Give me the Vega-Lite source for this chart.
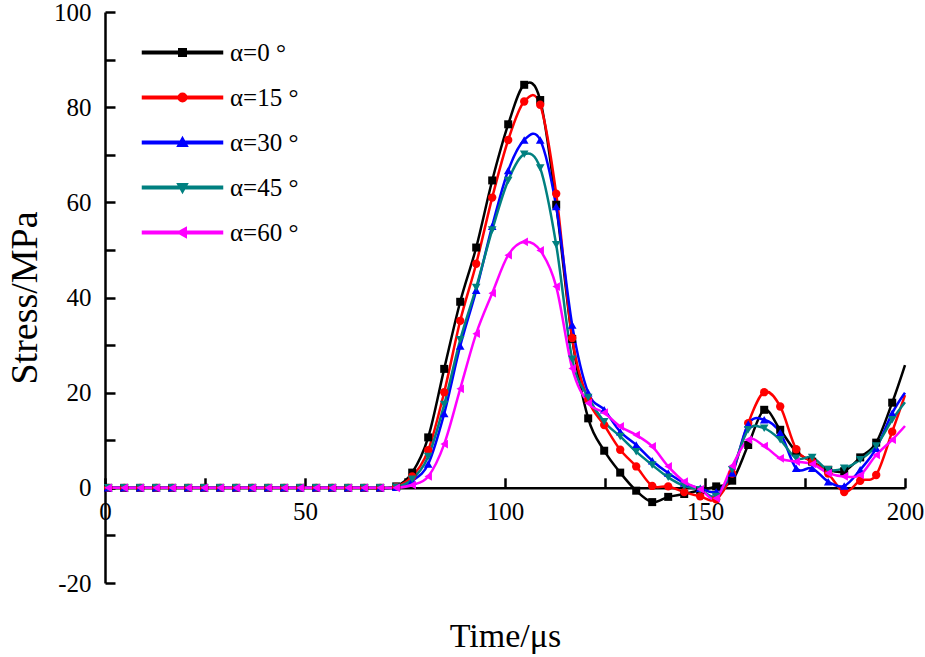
{
  "$schema": "https://vega.github.io/schema/vega-lite/v6.json",
  "width": 800,
  "height": 571,
  "autosize": {"type": "none"},
  "padding": {"left": 105, "top": 12, "right": 20, "bottom": 74},
  "background": "white",
  "config": {"view": {"stroke": null}, "font": "Times New Roman, Liberation Serif, DejaVu Serif, serif"},
  "data": {"values": [
    {"series": "α=0 °", "t": 0.8, "stress": 0}, {"series": "α=0 °", "t": 4.8, "stress": 0}, {"series": "α=0 °", "t": 8.8, "stress": 0}, {"series": "α=0 °", "t": 12.8, "stress": 0}, {"series": "α=0 °", "t": 16.8, "stress": 0}, {"series": "α=0 °", "t": 20.8, "stress": 0}, {"series": "α=0 °", "t": 24.8, "stress": 0}, {"series": "α=0 °", "t": 28.8, "stress": 0}, {"series": "α=0 °", "t": 32.8, "stress": 0}, {"series": "α=0 °", "t": 36.8, "stress": 0}, {"series": "α=0 °", "t": 40.8, "stress": 0}, {"series": "α=0 °", "t": 44.8, "stress": 0}, {"series": "α=0 °", "t": 48.8, "stress": 0}, {"series": "α=0 °", "t": 52.8, "stress": 0}, {"series": "α=0 °", "t": 56.8, "stress": 0}, {"series": "α=0 °", "t": 60.8, "stress": 0}, {"series": "α=0 °", "t": 64.8, "stress": 0}, {"series": "α=0 °", "t": 68.8, "stress": 0}, {"series": "α=0 °", "t": 72.8, "stress": 0.3},
    {"series": "α=0 °", "t": 76.8, "stress": 3.2}, {"series": "α=0 °", "t": 80.8, "stress": 10.6}, {"series": "α=0 °", "t": 84.8, "stress": 25.0}, {"series": "α=0 °", "t": 88.8, "stress": 39.1}, {"series": "α=0 °", "t": 92.8, "stress": 50.5}, {"series": "α=0 °", "t": 96.8, "stress": 64.6}, {"series": "α=0 °", "t": 100.8, "stress": 76.4}, {"series": "α=0 °", "t": 104.8, "stress": 84.7}, {"series": "α=0 °", "t": 108.8, "stress": 81.5}, {"series": "α=0 °", "t": 112.8, "stress": 59.5}, {"series": "α=0 °", "t": 116.8, "stress": 31.3}, {"series": "α=0 °", "t": 120.8, "stress": 14.6}, {"series": "α=0 °", "t": 124.8, "stress": 7.8}, {"series": "α=0 °", "t": 128.8, "stress": 3.2}, {"series": "α=0 °", "t": 132.8, "stress": -0.6}, {"series": "α=0 °", "t": 136.8, "stress": -3.0}, {"series": "α=0 °", "t": 140.8, "stress": -1.9}, {"series": "α=0 °", "t": 144.8, "stress": -1.3}, {"series": "α=0 °", "t": 148.8, "stress": -0.5}, {"series": "α=0 °", "t": 152.8, "stress": 0.3}, {"series": "α=0 °", "t": 156.8, "stress": 1.5}, {"series": "α=0 °", "t": 160.8, "stress": 9.0}, {"series": "α=0 °", "t": 164.8, "stress": 16.4}, {"series": "α=0 °", "t": 168.8, "stress": 12.2}, {"series": "α=0 °", "t": 172.8, "stress": 7.6}, {"series": "α=0 °", "t": 176.8, "stress": 5.5}, {"series": "α=0 °", "t": 180.8, "stress": 3.8}, {"series": "α=0 °", "t": 184.8, "stress": 3.5}, {"series": "α=0 °", "t": 188.8, "stress": 6.4}, {"series": "α=0 °", "t": 192.8, "stress": 9.5}, {"series": "α=0 °", "t": 196.8, "stress": 17.9}, {"series": "α=0 °", "t": 200, "stress": 25.8},

    {"series": "α=15 °", "t": 0.8, "stress": 0}, {"series": "α=15 °", "t": 4.8, "stress": 0}, {"series": "α=15 °", "t": 8.8, "stress": 0}, {"series": "α=15 °", "t": 12.8, "stress": 0}, {"series": "α=15 °", "t": 16.8, "stress": 0}, {"series": "α=15 °", "t": 20.8, "stress": 0}, {"series": "α=15 °", "t": 24.8, "stress": 0}, {"series": "α=15 °", "t": 28.8, "stress": 0}, {"series": "α=15 °", "t": 32.8, "stress": 0}, {"series": "α=15 °", "t": 36.8, "stress": 0}, {"series": "α=15 °", "t": 40.8, "stress": 0}, {"series": "α=15 °", "t": 44.8, "stress": 0}, {"series": "α=15 °", "t": 48.8, "stress": 0}, {"series": "α=15 °", "t": 52.8, "stress": 0}, {"series": "α=15 °", "t": 56.8, "stress": 0}, {"series": "α=15 °", "t": 60.8, "stress": 0}, {"series": "α=15 °", "t": 64.8, "stress": 0}, {"series": "α=15 °", "t": 68.8, "stress": 0}, {"series": "α=15 °", "t": 72.8, "stress": 0.2},
    {"series": "α=15 °", "t": 76.8, "stress": 2.4}, {"series": "α=15 °", "t": 80.8, "stress": 7.9}, {"series": "α=15 °", "t": 84.8, "stress": 20.1}, {"series": "α=15 °", "t": 88.8, "stress": 35.1}, {"series": "α=15 °", "t": 92.8, "stress": 47.1}, {"series": "α=15 °", "t": 96.8, "stress": 61.0}, {"series": "α=15 °", "t": 100.8, "stress": 73.1}, {"series": "α=15 °", "t": 104.8, "stress": 81.2}, {"series": "α=15 °", "t": 108.8, "stress": 80.5}, {"series": "α=15 °", "t": 112.8, "stress": 61.8}, {"series": "α=15 °", "t": 116.8, "stress": 31.5}, {"series": "α=15 °", "t": 120.8, "stress": 18.5}, {"series": "α=15 °", "t": 124.8, "stress": 13.2}, {"series": "α=15 °", "t": 128.8, "stress": 8.0}, {"series": "α=15 °", "t": 132.8, "stress": 4.5}, {"series": "α=15 °", "t": 136.8, "stress": 0.4}, {"series": "α=15 °", "t": 140.8, "stress": 0.3}, {"series": "α=15 °", "t": 144.8, "stress": -0.9}, {"series": "α=15 °", "t": 148.8, "stress": -1.8}, {"series": "α=15 °", "t": 152.8, "stress": -2.4}, {"series": "α=15 °", "t": 156.8, "stress": 3.0}, {"series": "α=15 °", "t": 160.8, "stress": 13.6}, {"series": "α=15 °", "t": 164.8, "stress": 20.1}, {"series": "α=15 °", "t": 168.8, "stress": 17.1}, {"series": "α=15 °", "t": 172.8, "stress": 8.1}, {"series": "α=15 °", "t": 176.8, "stress": 5.5}, {"series": "α=15 °", "t": 180.8, "stress": 3.0}, {"series": "α=15 °", "t": 184.8, "stress": -0.9}, {"series": "α=15 °", "t": 188.8, "stress": 1.5}, {"series": "α=15 °", "t": 192.8, "stress": 2.7}, {"series": "α=15 °", "t": 196.8, "stress": 11.8}, {"series": "α=15 °", "t": 200, "stress": 19.5},

    {"series": "α=30 °", "t": 0.8, "stress": 0}, {"series": "α=30 °", "t": 4.8, "stress": 0}, {"series": "α=30 °", "t": 8.8, "stress": 0}, {"series": "α=30 °", "t": 12.8, "stress": 0}, {"series": "α=30 °", "t": 16.8, "stress": 0}, {"series": "α=30 °", "t": 20.8, "stress": 0}, {"series": "α=30 °", "t": 24.8, "stress": 0}, {"series": "α=30 °", "t": 28.8, "stress": 0}, {"series": "α=30 °", "t": 32.8, "stress": 0}, {"series": "α=30 °", "t": 36.8, "stress": 0}, {"series": "α=30 °", "t": 40.8, "stress": 0}, {"series": "α=30 °", "t": 44.8, "stress": 0}, {"series": "α=30 °", "t": 48.8, "stress": 0}, {"series": "α=30 °", "t": 52.8, "stress": 0}, {"series": "α=30 °", "t": 56.8, "stress": 0}, {"series": "α=30 °", "t": 60.8, "stress": 0}, {"series": "α=30 °", "t": 64.8, "stress": 0}, {"series": "α=30 °", "t": 68.8, "stress": 0}, {"series": "α=30 °", "t": 72.8, "stress": 0.1},
    {"series": "α=30 °", "t": 76.8, "stress": 1.5}, {"series": "α=30 °", "t": 80.8, "stress": 5.0}, {"series": "α=30 °", "t": 84.8, "stress": 15.6}, {"series": "α=30 °", "t": 88.8, "stress": 29.8}, {"series": "α=30 °", "t": 92.8, "stress": 41.5}, {"series": "α=30 °", "t": 96.8, "stress": 55.0}, {"series": "α=30 °", "t": 100.8, "stress": 66.7}, {"series": "α=30 °", "t": 104.8, "stress": 73.1}, {"series": "α=30 °", "t": 108.8, "stress": 73.1}, {"series": "α=30 °", "t": 112.8, "stress": 59.1}, {"series": "α=30 °", "t": 116.8, "stress": 34.2}, {"series": "α=30 °", "t": 120.8, "stress": 20.0}, {"series": "α=30 °", "t": 124.8, "stress": 16.4}, {"series": "α=30 °", "t": 128.8, "stress": 11.8}, {"series": "α=30 °", "t": 132.8, "stress": 9.0}, {"series": "α=30 °", "t": 136.8, "stress": 5.7}, {"series": "α=30 °", "t": 140.8, "stress": 3.1}, {"series": "α=30 °", "t": 144.8, "stress": 1.0}, {"series": "α=30 °", "t": 148.8, "stress": -0.1}, {"series": "α=30 °", "t": 152.8, "stress": -0.8}, {"series": "α=30 °", "t": 156.8, "stress": 3.1}, {"series": "α=30 °", "t": 160.8, "stress": 13.4}, {"series": "α=30 °", "t": 164.8, "stress": 14.3}, {"series": "α=30 °", "t": 168.8, "stress": 11.6}, {"series": "α=30 °", "t": 172.8, "stress": 4.1}, {"series": "α=30 °", "t": 176.8, "stress": 4.1}, {"series": "α=30 °", "t": 180.8, "stress": 1.3}, {"series": "α=30 °", "t": 184.8, "stress": 0.4}, {"series": "α=30 °", "t": 188.8, "stress": 3.8}, {"series": "α=30 °", "t": 192.8, "stress": 8.3}, {"series": "α=30 °", "t": 196.8, "stress": 15.7}, {"series": "α=30 °", "t": 200, "stress": 20.0},

    {"series": "α=45 °", "t": 0.8, "stress": 0}, {"series": "α=45 °", "t": 4.8, "stress": 0}, {"series": "α=45 °", "t": 8.8, "stress": 0}, {"series": "α=45 °", "t": 12.8, "stress": 0}, {"series": "α=45 °", "t": 16.8, "stress": 0}, {"series": "α=45 °", "t": 20.8, "stress": 0}, {"series": "α=45 °", "t": 24.8, "stress": 0}, {"series": "α=45 °", "t": 28.8, "stress": 0}, {"series": "α=45 °", "t": 32.8, "stress": 0}, {"series": "α=45 °", "t": 36.8, "stress": 0}, {"series": "α=45 °", "t": 40.8, "stress": 0}, {"series": "α=45 °", "t": 44.8, "stress": 0}, {"series": "α=45 °", "t": 48.8, "stress": 0}, {"series": "α=45 °", "t": 52.8, "stress": 0}, {"series": "α=45 °", "t": 56.8, "stress": 0}, {"series": "α=45 °", "t": 60.8, "stress": 0}, {"series": "α=45 °", "t": 64.8, "stress": 0}, {"series": "α=45 °", "t": 68.8, "stress": 0}, {"series": "α=45 °", "t": 72.8, "stress": 0.1},
    {"series": "α=45 °", "t": 76.8, "stress": 1.8}, {"series": "α=45 °", "t": 80.8, "stress": 6.6}, {"series": "α=45 °", "t": 84.8, "stress": 17.5}, {"series": "α=45 °", "t": 88.8, "stress": 31.1}, {"series": "α=45 °", "t": 92.8, "stress": 42.1}, {"series": "α=45 °", "t": 96.8, "stress": 54.2}, {"series": "α=45 °", "t": 100.8, "stress": 64.6}, {"series": "α=45 °", "t": 104.8, "stress": 70.1}, {"series": "α=45 °", "t": 108.8, "stress": 67.2}, {"series": "α=45 °", "t": 112.8, "stress": 51.1}, {"series": "α=45 °", "t": 116.8, "stress": 27.0}, {"series": "α=45 °", "t": 120.8, "stress": 19.0}, {"series": "α=45 °", "t": 124.8, "stress": 13.9}, {"series": "α=45 °", "t": 128.8, "stress": 10.8}, {"series": "α=45 °", "t": 132.8, "stress": 7.6}, {"series": "α=45 °", "t": 136.8, "stress": 4.8}, {"series": "α=45 °", "t": 140.8, "stress": 2.2}, {"series": "α=45 °", "t": 144.8, "stress": 0.4}, {"series": "α=45 °", "t": 148.8, "stress": -0.4}, {"series": "α=45 °", "t": 152.8, "stress": -1.8}, {"series": "α=45 °", "t": 156.8, "stress": 3.8}, {"series": "α=45 °", "t": 160.8, "stress": 12.2}, {"series": "α=45 °", "t": 164.8, "stress": 12.5}, {"series": "α=45 °", "t": 168.8, "stress": 10.1}, {"series": "α=45 °", "t": 172.8, "stress": 6.2}, {"series": "α=45 °", "t": 176.8, "stress": 6.4}, {"series": "α=45 °", "t": 180.8, "stress": 3.8}, {"series": "α=45 °", "t": 184.8, "stress": 4.1}, {"series": "α=45 °", "t": 188.8, "stress": 5.9}, {"series": "α=45 °", "t": 192.8, "stress": 8.8}, {"series": "α=45 °", "t": 196.8, "stress": 14.3}, {"series": "α=45 °", "t": 200, "stress": 18.0},

    {"series": "α=60 °", "t": 0.8, "stress": 0}, {"series": "α=60 °", "t": 4.8, "stress": 0}, {"series": "α=60 °", "t": 8.8, "stress": 0}, {"series": "α=60 °", "t": 12.8, "stress": 0}, {"series": "α=60 °", "t": 16.8, "stress": 0}, {"series": "α=60 °", "t": 20.8, "stress": 0}, {"series": "α=60 °", "t": 24.8, "stress": 0}, {"series": "α=60 °", "t": 28.8, "stress": 0}, {"series": "α=60 °", "t": 32.8, "stress": 0}, {"series": "α=60 °", "t": 36.8, "stress": 0}, {"series": "α=60 °", "t": 40.8, "stress": 0}, {"series": "α=60 °", "t": 44.8, "stress": 0}, {"series": "α=60 °", "t": 48.8, "stress": 0}, {"series": "α=60 °", "t": 52.8, "stress": 0}, {"series": "α=60 °", "t": 56.8, "stress": 0}, {"series": "α=60 °", "t": 60.8, "stress": 0}, {"series": "α=60 °", "t": 64.8, "stress": 0}, {"series": "α=60 °", "t": 68.8, "stress": 0}, {"series": "α=60 °", "t": 72.8, "stress": 0},
    {"series": "α=60 °", "t": 76.8, "stress": 0.6}, {"series": "α=60 °", "t": 80.8, "stress": 2.4}, {"series": "α=60 °", "t": 84.8, "stress": 9.2}, {"series": "α=60 °", "t": 88.8, "stress": 20.8}, {"series": "α=60 °", "t": 92.8, "stress": 32.4}, {"series": "α=60 °", "t": 96.8, "stress": 40.9}, {"series": "α=60 °", "t": 100.8, "stress": 48.9}, {"series": "α=60 °", "t": 104.8, "stress": 51.7}, {"series": "α=60 °", "t": 108.8, "stress": 49.9}, {"series": "α=60 °", "t": 112.8, "stress": 42.3}, {"series": "α=60 °", "t": 116.8, "stress": 25.1}, {"series": "α=60 °", "t": 120.8, "stress": 17.8}, {"series": "α=60 °", "t": 124.8, "stress": 15.8}, {"series": "α=60 °", "t": 128.8, "stress": 12.9}, {"series": "α=60 °", "t": 132.8, "stress": 11.1}, {"series": "α=60 °", "t": 136.8, "stress": 8.7}, {"series": "α=60 °", "t": 140.8, "stress": 4.5}, {"series": "α=60 °", "t": 144.8, "stress": 1.3}, {"series": "α=60 °", "t": 148.8, "stress": -0.3}, {"series": "α=60 °", "t": 152.8, "stress": -2.2}, {"series": "α=60 °", "t": 156.8, "stress": 4.6}, {"series": "α=60 °", "t": 160.8, "stress": 10.1}, {"series": "α=60 °", "t": 164.8, "stress": 8.8}, {"series": "α=60 °", "t": 168.8, "stress": 6.2}, {"series": "α=60 °", "t": 172.8, "stress": 5.5}, {"series": "α=60 °", "t": 176.8, "stress": 5.0}, {"series": "α=60 °", "t": 180.8, "stress": 3.1}, {"series": "α=60 °", "t": 184.8, "stress": 2.4}, {"series": "α=60 °", "t": 188.8, "stress": 2.7}, {"series": "α=60 °", "t": 192.8, "stress": 6.9}, {"series": "α=60 °", "t": 196.8, "stress": 10.1}, {"series": "α=60 °", "t": 200, "stress": 13.0}
  ]},
  "encoding": {
    "x": {
      "field": "t", "type": "quantitative",
      "scale": {"domain": [0, 200], "nice": false},
      "axis": {
        "values": [0, 25, 50, 75, 100, 125, 150, 175, 200],
        "labelExpr": "datum.value % 50 === 0 ? '' + datum.value : ''",
        "offset": -95.2,
        "grid": false,
        "domainColor": "black", "domainWidth": 2.5,
        "tickColor": "black", "tickWidth": 2.5, "tickSize": -10,
        "encode": {"ticks": {"y2": {"value": {"expr": "datum.value % 50 === 0 ? -10 : -5"}}}},
        "labelFont": "Times New Roman, Liberation Serif, DejaVu Serif, serif", "labelFontSize": 25, "labelColor": "black",
        "labelPadding": 22, "labelFlush": false, "labelOverlap": false,
        "title": "Time/μs", "titleFont": "Times New Roman, Liberation Serif, DejaVu Serif, serif", "titleFontSize": 34,
        "titleFontWeight": "normal", "titleColor": "black", "titlePadding": 95
      }
    },
    "y": {
      "field": "stress", "type": "quantitative",
      "scale": {"domain": [-20, 100], "nice": false},
      "axis": {
        "values": [-20, -10, 0, 10, 20, 30, 40, 50, 60, 70, 80, 90, 100],
        "labelExpr": "datum.value % 20 === 0 ? '' + datum.value : ''",
        "grid": false,
        "domainColor": "black", "domainWidth": 2.5,
        "tickColor": "black", "tickWidth": 2.5, "tickSize": -10,
        "encode": {"ticks": {"x2": {"value": {"expr": "datum.value % 20 === 0 ? 10 : 5"}}}},
        "labelFont": "Times New Roman, Liberation Serif, DejaVu Serif, serif", "labelFontSize": 25, "labelColor": "black",
        "labelPadding": 24, "labelFlush": false, "labelOverlap": false,
        "title": "Stress/MPa", "titleFont": "Times New Roman, Liberation Serif, DejaVu Serif, serif", "titleFontSize": 38,
        "titleFontWeight": "normal", "titleColor": "black", "titlePadding": 9
      }
    },
    "color": {
      "field": "series", "type": "nominal",
      "scale": {
        "domain": ["α=0 °", "α=15 °", "α=30 °", "α=45 °", "α=60 °"],
        "range": ["#000000", "#ff0000", "#0000ff", "#008080", "#ff00ff"]
      },
      "legend": {
        "orient": "none", "legendX": 65, "legendY": 28, "title": null, "padding": 0,
        "labelFont": "Times New Roman, Liberation Serif, DejaVu Serif, serif", "labelFontSize": 25, "labelColor": "black",
        "labelOffset": 35, "labelLimit": 300, "symbolSize": 100, "rowPadding": 19
      }
    }
  },
  "layer": [
    {"mark": {"type": "line", "interpolate": "cardinal", "strokeWidth": 2.5}},
    {
      "transform": [{"filter": "datum.series === 'α=0 °' && datum.t < 199"}],
      "mark": {"type": "point", "filled": true, "shape": "square", "size": 64, "opacity": 1}
    },
    {
      "transform": [{"filter": "datum.series === 'α=15 °' && datum.t < 199"}],
      "mark": {"type": "point", "filled": true, "shape": "circle", "size": 70, "opacity": 1}
    },
    {
      "transform": [{"filter": "datum.series === 'α=30 °' && datum.t < 199"}],
      "mark": {"type": "point", "filled": true, "shape": "triangle-up", "size": 75, "opacity": 1}
    },
    {
      "transform": [{"filter": "datum.series === 'α=45 °' && datum.t < 199"}],
      "mark": {"type": "point", "filled": true, "shape": "triangle-down", "size": 75, "opacity": 1}
    },
    {
      "transform": [{"filter": "datum.series === 'α=60 °' && datum.t < 199"}],
      "mark": {"type": "point", "filled": true, "shape": "triangle-left", "size": 75, "opacity": 1}
    },
    {
      "transform": [{"filter": "false"}],
      "mark": {"type": "point", "filled": true, "size": 100, "opacity": 1},
      "encoding": {
        "shape": {
          "field": "series", "type": "nominal",
          "scale": {
            "domain": ["α=0 °", "α=15 °", "α=30 °", "α=45 °", "α=60 °"],
            "range": [
              "M-8,-0.25H8V0.25H-8ZM-0.75,-0.75H0.75V0.75H-0.75Z",
              "M-8,-0.25H8V0.25H-8ZM-0.85,0A0.85,0.85,0,1,1,0.85,0A0.85,0.85,0,1,1,-0.85,0Z",
              "M-8,-0.25H8V0.25H-8ZM0,-1.05L1,0.75H-1Z",
              "M-8,-0.25H8V0.25H-8ZM-1,-0.75H1L0,1.05Z",
              "M-8,-0.25H8V0.25H-8ZM-1.05,0L0.75,-1V1Z"
            ]
          },
          "legend": {
            "orient": "none", "legendX": 65, "legendY": 28, "title": null, "padding": 0,
            "labelFont": "Times New Roman, Liberation Serif, DejaVu Serif, serif", "labelFontSize": 25, "labelColor": "black",
            "labelOffset": 35, "labelLimit": 300, "symbolSize": 100, "rowPadding": 19
          }
        }
      }
    }
  ]
}
